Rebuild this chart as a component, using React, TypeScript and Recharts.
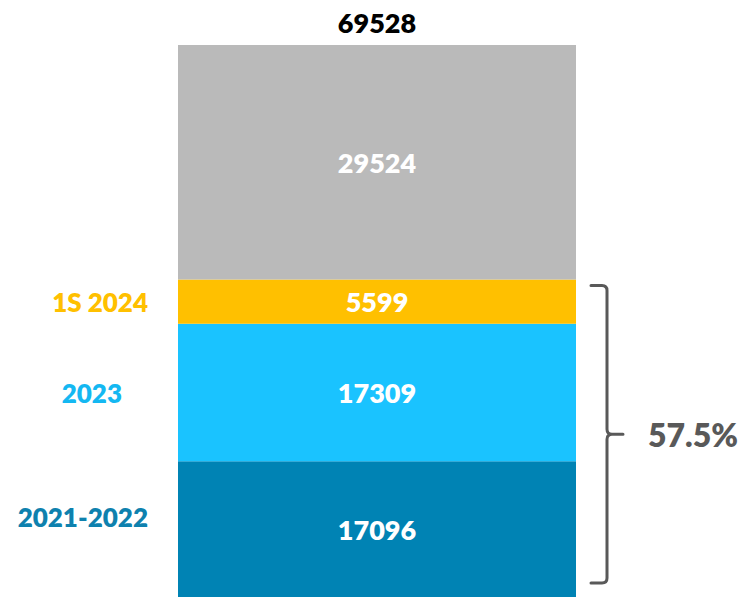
import React from "react";
import { BarChart, Bar, XAxis, YAxis, LabelList, ReferenceArea } from "recharts";

// periodos apilados de abajo hacia arriba
const segmentKeys = ["p2122", "p2023", "p1s2024", "resto"];
const segmentLabels = ["2021-2022", "2023", "1S 2024", ""];
const segmentValues = [17096, 17309, 5599, 29524];
const total = 69528;
const bracketShare = "57.5%";

const FONT = "Lato, 'Open Sans', sans-serif";
const WEIGHT = 800;
const barColors = ["#0083B4", "#1AC3FF", "#FFC000", "#BABABA"];
const sideColors = ["#0E81AE", "#14B8F2", "#FFC000", "#BABABA"];
// posición del texto lateral: borde derecho relativo a la barra, desplazamiento vertical
const sideDx = [30, 56, 30, 0];
const sideDy = [-12, 0, 0, 0];

const row: Record<string, number | string> = { name: "total", total };
segmentKeys.forEach((k, i) => { row[k] = segmentValues[i]; });
const data = [row];

const bracketTop = segmentValues.slice(0, 3).reduce((a, b) => a + b, 0);

function SideLabel(i: number) {
  return (props: any) => {
    const { x, y, height } = props;
    if (!segmentLabels[i]) return null;
    return (
      <text
        x={x - sideDx[i]}
        y={y + height / 2 + sideDy[i]}
        textAnchor="end"
        dominantBaseline="central"
        fill={sideColors[i]}
        fontFamily={FONT}
        fontWeight={WEIGHT}
        fontSize={26}
      >
        {segmentLabels[i]}
      </text>
    );
  };
}

function InnerLabel(props: any) {
  const { x, y, width, height, value } = props;
  return (
    <text
      x={x + width / 2}
      y={y + height / 2}
      textAnchor="middle"
      dominantBaseline="central"
      fill="#FFFFFF"
      fontFamily={FONT}
      fontWeight={WEIGHT}
      fontSize={27}
    >
      {value}
    </text>
  );
}

function TotalLabel(props: any) {
  const { x, y, width, value } = props;
  return (
    <text
      x={x + width / 2}
      y={y - 23}
      textAnchor="middle"
      dominantBaseline="central"
      fill="#000000"
      fontFamily={FONT}
      fontWeight={WEIGHT}
      fontSize={27}
    >
      {value}
    </text>
  );
}

function Bracket(props: any) {
  const { x, y, width, height } = props;
  const top = y + 6;
  const bottom = y + height - 14;
  const mid = (top + bottom) / 2;
  const lx = x + width + 31;
  const left = x + width + 15;
  const r = 5;
  const d = [
    `M ${left} ${top} L ${lx - r} ${top} Q ${lx} ${top} ${lx} ${top + r}`,
    `L ${lx} ${mid - r} Q ${lx} ${mid} ${lx + r} ${mid} L ${lx + 16} ${mid}`,
    `M ${lx + r} ${mid} Q ${lx} ${mid} ${lx} ${mid + r}`,
    `L ${lx} ${bottom - r} Q ${lx} ${bottom} ${lx - r} ${bottom} L ${left} ${bottom}`,
  ].join(" ");
  return (
    <g>
      <path d={d} fill="none" stroke="#595959" strokeWidth={3} strokeLinecap="round" />
      <text
        x={lx + 41}
        y={mid}
        textAnchor="start"
        dominantBaseline="central"
        fill="#595959"
        fontFamily={FONT}
        fontWeight={WEIGHT}
        fontSize={32}
      >
        {bracketShare}
      </text>
    </g>
  );
}

export default function App() {
  return (
    <div style={{ position: "absolute", left: 0, top: 0, width: 744, height: 598, background: "#fff" }}>
      <BarChart
        width={744}
        height={598}
        data={data}
        margin={{ top: 45, right: 168, left: 178, bottom: 1 }}
        barCategoryGap={0}
      >
        <XAxis dataKey="name" hide />
        <YAxis hide domain={[0, total]} />
        {segmentKeys.map((k, i) => (
          <Bar key={k} dataKey={k} stackId="a" fill={barColors[i]} isAnimationActive={false}>
            <LabelList dataKey={k} content={InnerLabel} />
            <LabelList dataKey={k} content={SideLabel(i)} />
            {i === segmentKeys.length - 1 && <LabelList dataKey="total" content={TotalLabel} />}
          </Bar>
        ))}
        <ReferenceArea y1={0} y2={bracketTop} ifOverflow="visible" shape={Bracket} />
      </BarChart>
    </div>
  );
}
